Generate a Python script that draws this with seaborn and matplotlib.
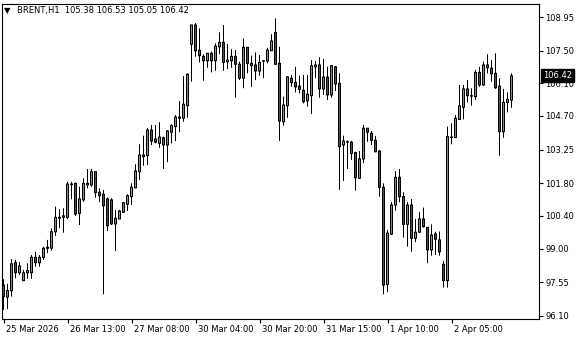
import matplotlib
matplotlib.use("Agg")
import matplotlib.pyplot as plt
import matplotlib.transforms as mtransforms
import seaborn as sns
import numpy as np
import pandas as pd

# ---- data (H1 candles, BRENT) ----
opens = [97.43, 96.91, 97.19, 98.39, 97.96, 97.62, 97.96, 97.96, 98.62, 98.39,
         98.62, 99.01, 99.01, 99.72, 100.30, 100.34, 100.34, 101.75, 101.80, 100.51,
         101.09, 101.73, 101.73, 102.30, 101.42, 101.33, 101.13, 101.09, 100.06, 100.27,
         100.56, 100.90, 101.23, 101.61, 102.30, 102.95, 102.99, 104.09, 103.71, 103.52,
         103.76, 103.45, 104.00, 104.24, 104.60, 104.60, 105.14, 107.78, 108.61, 107.52,
         107.26, 107.07, 107.39, 107.07, 107.67, 107.86, 107.03, 107.07, 107.26, 106.92,
         106.32, 107.65, 106.96, 106.89, 106.63, 107.05, 107.06, 107.50, 108.29, 106.96,
         104.45, 105.14, 106.32, 106.14, 105.98, 105.80, 105.35, 105.57, 106.81, 106.89,
         105.86, 106.37, 105.60, 106.81, 106.10, 103.45, 103.57, 103.57, 103.12, 102.02,
         102.85, 104.17, 103.95, 103.65, 103.19, 101.63, 97.46, 99.62, 100.87, 102.06,
         101.23, 100.04, 100.87, 99.44, 99.70, 100.27, 99.91, 98.94, 99.63, 99.37,
         98.32, 97.62, 103.79, 103.77, 104.55, 105.07, 105.86, 105.55, 105.53, 106.57,
         106.03, 106.89, 106.75, 106.53, 105.98, 104.02, 105.28, 105.38]
highs = [97.68, 97.48, 98.54, 98.51, 98.42, 98.08, 98.37, 98.72, 98.86, 98.72,
         99.08, 99.37, 99.87, 100.80, 100.69, 100.73, 101.87, 101.87, 101.83, 101.66,
         102.02, 102.42, 102.42, 102.32, 101.59, 101.52, 101.19, 101.16, 100.66, 100.66,
         100.98, 101.33, 101.80, 102.62, 103.48, 103.85, 104.17, 104.31, 104.31, 104.43,
         103.81, 104.09, 104.34, 104.74, 105.34, 106.41, 106.53, 108.61, 108.69, 108.46,
         107.35, 107.40, 107.46, 107.82, 108.29, 108.61, 107.79, 107.57, 107.53, 107.03,
         108.03, 107.65, 107.29, 107.43, 107.32, 107.10, 107.63, 108.21, 108.89, 107.67,
         105.53, 106.41, 106.46, 106.81, 106.43, 106.46, 106.46, 107.10, 107.06, 107.22,
         107.15, 106.81, 106.89, 106.85, 106.53, 103.85, 103.65, 103.62, 103.16, 103.19,
         104.31, 104.18, 104.05, 103.84, 103.23, 101.80, 99.80, 100.99, 102.33, 102.42,
         101.42, 100.99, 101.13, 100.27, 100.56, 100.76, 99.92, 100.04, 99.72, 99.73,
         98.47, 104.24, 104.38, 104.74, 106.03, 106.03, 106.24, 105.89, 106.67, 106.81,
         107.03, 107.35, 107.10, 107.39, 106.32, 105.86, 105.71, 106.53]
lows = [96.36, 96.39, 96.93, 97.72, 97.86, 97.60, 97.70, 97.70, 98.22, 98.22,
        98.51, 98.80, 98.91, 99.54, 99.87, 99.68, 100.26, 101.12, 100.40, 100.01,
        101.01, 101.59, 101.66, 101.18, 100.99, 97.03, 99.75, 100.01, 98.89, 100.27,
        100.53, 100.61, 100.87, 101.59, 101.95, 102.56, 102.59, 103.45, 103.52, 103.33,
        102.42, 102.71, 103.52, 103.62, 104.00, 104.45, 104.62, 106.17, 107.24, 107.00,
        106.21, 106.77, 106.57, 106.64, 107.35, 106.64, 106.72, 106.77, 105.48, 106.24,
        105.89, 106.53, 105.95, 106.24, 106.43, 106.32, 106.96, 107.49, 106.89, 103.62,
        104.28, 104.62, 105.95, 105.71, 105.67, 105.24, 105.10, 104.78, 106.32, 105.48,
        105.60, 105.38, 105.48, 105.77, 101.52, 101.90, 102.42, 102.81, 101.49, 102.00,
        102.66, 103.59, 103.45, 103.14, 101.23, 97.03, 97.12, 99.58, 100.63, 100.99,
        99.47, 99.08, 98.86, 99.27, 99.66, 99.90, 98.37, 98.69, 98.72, 98.69,
        97.32, 97.32, 103.48, 103.75, 104.55, 104.55, 105.28, 105.14, 105.38, 105.95,
        106.00, 106.53, 106.17, 105.86, 102.99, 103.76, 104.85, 105.05]
closes = [96.93, 97.19, 98.34, 97.96, 98.25, 97.96, 98.05, 98.62, 98.39, 98.62,
          99.01, 99.05, 99.72, 100.34, 100.34, 100.40, 101.77, 101.77, 100.48, 101.13,
          101.80, 101.80, 102.30, 101.40, 101.27, 100.84, 99.98, 100.06, 100.30, 100.61,
          100.97, 101.27, 101.64, 102.33, 103.02, 103.02, 104.09, 103.62, 103.57, 103.79,
          103.45, 104.05, 104.28, 104.65, 104.65, 105.20, 106.49, 108.61, 107.50, 107.29,
          107.07, 107.39, 107.07, 107.70, 107.86, 107.00, 107.10, 107.26, 106.92, 106.32,
          107.65, 106.96, 106.86, 106.63, 107.00, 107.07, 107.53, 107.92, 106.92, 104.48,
          105.17, 106.38, 106.13, 105.95, 105.84, 105.31, 105.63, 106.86, 106.89, 105.86,
          106.37, 105.60, 106.86, 106.07, 103.38, 103.62, 103.59, 103.09, 102.04, 102.85,
          104.17, 104.00, 103.65, 103.16, 101.63, 97.43, 99.66, 100.87, 102.06, 101.23,
          100.04, 100.87, 99.44, 99.70, 100.27, 99.94, 98.94, 99.58, 99.40, 98.86,
          97.62, 103.81, 103.77, 104.60, 105.13, 105.86, 105.57, 105.57, 106.57, 106.03,
          106.89, 106.77, 106.51, 105.91, 104.02, 105.28, 105.41, 106.42]

xtick_pos = [0, 16, 32, 48, 64, 80, 96, 112]
xtick_labels = ["25 Mar 2026", "26 Mar 13:00", "27 Mar 08:00", "30 Mar 04:00",
                "30 Mar 20:00", "31 Mar 15:00", "1 Apr 10:00", "2 Apr 05:00"]
ytick_vals = [108.95, 107.50, 106.10, 104.70, 103.25, 101.80, 100.40, 99.00, 97.55, 96.10]
symbol = "BRENT,H1"
last_bar = [105.38, 106.53, 105.05, 106.42]

# ---- style ----
sns.set_theme(style="white")
plt.rcParams['font.family'] = ['DejaVu Sans']

W, H = 580, 340
AX_L, AX_R, AX_T, AX_B = 2, 539, 4, 319          # axes box in pixels
YLIM = (95.97, 109.51)
XLIM = (-0.375, 133.875)                            # bar centres on pixel centres
PX = (YLIM[1] - YLIM[0]) / (AX_B - AX_T)            # one pixel in price units

df = pd.DataFrame({"open": opens, "high": highs, "low": lows, "close": closes})
df["idx"] = np.arange(len(df))
df["up"] = df["close"] >= df["open"]
df["body_lo"] = df[["open", "close"]].min(axis=1)
df["body_hi"] = df[["open", "close"]].max(axis=1)

UP = "#3cbf3c"
DOWN = "#e81010"

fig = plt.figure(figsize=(W / 100, H / 100), dpi=100)
ax = fig.add_axes([AX_L / W, 1 - AX_B / H, (AX_R - AX_L) / W, (AX_B - AX_T) / H])

# wicks
ax.vlines(df["idx"], df["low"], df["high"], color="black", lw=0.72, zorder=2, snap=False)
# outer body (black outline, 3 px wide)
outer_lo = df["body_lo"] - 0.5 * PX
outer_h = (df["body_hi"] - df["body_lo"]) + PX
ax.bar(df["idx"], outer_h, bottom=outer_lo, width=0.75, color="black",
       linewidth=0, zorder=3, snap=False)
# inner fill (1 px wide)
inner_lo = df["body_lo"] + 0.5 * PX
inner_h = ((df["body_hi"] - df["body_lo"]) - PX).clip(lower=0)
ax.bar(df["idx"], inner_h, bottom=inner_lo, width=0.25,
       color=np.where(df["up"], UP, DOWN), linewidth=0, zorder=4, snap=False)

ax.set_xlim(*XLIM)
ax.set_ylim(*YLIM)

for s in ax.spines.values():
    s.set_visible(True)
    s.set_color("black")
    s.set_linewidth(0.8)

ax.set_xticks(xtick_pos)
ax.set_xticklabels(xtick_labels)
ax.tick_params(axis="x", bottom=True, direction="out", length=3, width=0.8,
               color="black", labelsize=6, pad=1.5, labelcolor="black")
shift = mtransforms.ScaledTranslation(2 / 100, 0, fig.dpi_scale_trans)
for lab in ax.get_xticklabels():
    lab.set_horizontalalignment("left")
    lab.set_transform(lab.get_transform() + shift)

ax.yaxis.tick_right()
ax.set_yticks(ytick_vals)
ax.set_yticklabels([f"{v:.2f}" for v in ytick_vals])
ax.tick_params(axis="y", right=True, left=False, labelright=True, labelleft=False,
               direction="out", length=3, width=0.8, color="black",
               labelsize=6, pad=1.5, labelcolor="black")
ax.grid(False)

# current price box
trans = mtransforms.blended_transform_factory(ax.transAxes, ax.transData)
ax.text(1.0, last_bar[3], f"{last_bar[3]:.2f}",
        transform=trans + mtransforms.ScaledTranslation(4 / 100, 0, fig.dpi_scale_trans),
        ha="left", va="center", color="white", fontsize=6, zorder=10, clip_on=False,
        bbox=dict(boxstyle="square,pad=0.25", fc="black", ec="black"))

# header
fig.text(4 / W, 1 - 11 / H, "\u25BC", fontsize=6, color="black", va="center", ha="left")
fig.text(17 / W, 1 - 11 / H,
         f"{symbol}  " + " ".join(f"{v:.2f}" for v in last_bar),
         fontsize=6, color="black", va="center", ha="left")

fig.savefig("out.png", dpi=100, facecolor="white")
